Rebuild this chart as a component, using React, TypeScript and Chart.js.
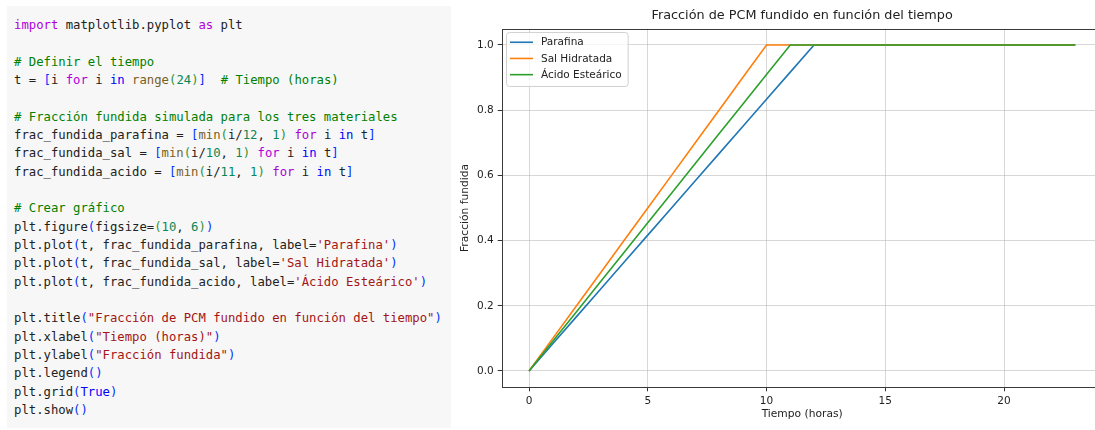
import React, { useEffect, useRef } from 'react';
import { Chart, registerables } from 'chart.js';

Chart.register(...registerables);

// ---------- data ----------
const hours = [0, 1, 2, 3, 4, 5, 6, 7, 8, 9, 10, 11, 12, 13, 14, 15, 16, 17, 18, 19, 20, 21, 22, 23];
const parafina = [0, 0.0833, 0.1667, 0.25, 0.3333, 0.4167, 0.5, 0.5833, 0.6667, 0.75, 0.8333, 0.9167, 1, 1, 1, 1, 1, 1, 1, 1, 1, 1, 1, 1];
const salHidratada = [0, 0.1, 0.2, 0.3, 0.4, 0.5, 0.6, 0.7, 0.8, 0.9, 1, 1, 1, 1, 1, 1, 1, 1, 1, 1, 1, 1, 1, 1];
const acidoEstearico = [0, 0.0909, 0.1818, 0.2727, 0.3636, 0.4545, 0.5455, 0.6364, 0.7273, 0.8182, 0.9091, 1, 1, 1, 1, 1, 1, 1, 1, 1, 1, 1, 1, 1];
const seriesLabels = ['Parafina', 'Sal Hidratada', 'Ácido Esteárico'];
const seriesColors = ['#1f77b4', '#ff7f0e', '#2ca02c'];
const xTickValues = [0, 5, 10, 15, 20];
const xTickLabels = ['0', '5', '10', '15', '20'];
const yTickValues = [0, 0.2, 0.4, 0.6, 0.8, 1.0];
const yTickLabels = ['0.0', '0.2', '0.4', '0.6', '0.8', '1.0'];
const chartTitle = 'Fracción de PCM fundido en función del tiempo';
const xAxisTitle = 'Tiempo (horas)';
const yAxisTitle = 'Fracción fundida';

// ---------- code panel ----------
type Tok = [string, string];
const codeColors: Record<string, string> = {
  d: '#212121',
  k: '#af00db',
  b: '#0000ff',
  f: '#795e26',
  n: '#098658',
  s: '#a31515',
  c: '#008000',
  p1: '#0431fa',
  p2: '#319331',
};
const codeLines: Tok[][] = [
  [['import', 'k'], [' matplotlib.pyplot ', 'd'], ['as', 'k'], [' plt', 'd']],
  [],
  [['# Definir el tiempo', 'c']],
  [['t = ', 'd'], ['[', 'p1'], ['i ', 'd'], ['for', 'k'], [' i ', 'd'], ['in', 'b'], [' ', 'd'], ['range', 'f'], ['(', 'p2'], ['24', 'n'], [')', 'p2'], [']', 'p1'], ['  ', 'd'], ['# Tiempo (horas)', 'c']],
  [],
  [['# Fracción fundida simulada para los tres materiales', 'c']],
  [['frac_fundida_parafina = ', 'd'], ['[', 'p1'], ['min', 'f'], ['(', 'p2'], ['i/', 'd'], ['12', 'n'], [', ', 'd'], ['1', 'n'], [')', 'p2'], [' ', 'd'], ['for', 'k'], [' i ', 'd'], ['in', 'b'], [' t', 'd'], [']', 'p1']],
  [['frac_fundida_sal = ', 'd'], ['[', 'p1'], ['min', 'f'], ['(', 'p2'], ['i/', 'd'], ['10', 'n'], [', ', 'd'], ['1', 'n'], [')', 'p2'], [' ', 'd'], ['for', 'k'], [' i ', 'd'], ['in', 'b'], [' t', 'd'], [']', 'p1']],
  [['frac_fundida_acido = ', 'd'], ['[', 'p1'], ['min', 'f'], ['(', 'p2'], ['i/', 'd'], ['11', 'n'], [', ', 'd'], ['1', 'n'], [')', 'p2'], [' ', 'd'], ['for', 'k'], [' i ', 'd'], ['in', 'b'], [' t', 'd'], [']', 'p1']],
  [],
  [['# Crear gráfico', 'c']],
  [['plt.figure', 'd'], ['(', 'p1'], ['figsize=', 'd'], ['(', 'p2'], ['10', 'n'], [', ', 'd'], ['6', 'n'], [')', 'p2'], [')', 'p1']],
  [['plt.plot', 'd'], ['(', 'p1'], ['t, frac_fundida_parafina, label=', 'd'], ["'Parafina'", 's'], [')', 'p1']],
  [['plt.plot', 'd'], ['(', 'p1'], ['t, frac_fundida_sal, label=', 'd'], ["'Sal Hidratada'", 's'], [')', 'p1']],
  [['plt.plot', 'd'], ['(', 'p1'], ['t, frac_fundida_acido, label=', 'd'], ["'Ácido Esteárico'", 's'], [')', 'p1']],
  [],
  [['plt.title', 'd'], ['(', 'p1'], ['"Fracción de PCM fundido en función del tiempo"', 's'], [')', 'p1']],
  [['plt.xlabel', 'd'], ['(', 'p1'], ['"Tiempo (horas)"', 's'], [')', 'p1']],
  [['plt.ylabel', 'd'], ['(', 'p1'], ['"Fracción fundida"', 's'], [')', 'p1']],
  [['plt.legend', 'd'], ['()', 'p1']],
  [['plt.grid', 'd'], ['(', 'p1'], ['True', 'b'], [')', 'p1']],
  [['plt.show', 'd'], ['()', 'p1']],
];

const FONT = '"DejaVu Sans", sans-serif';

// centre the title over the plotting area, like matplotlib does
const titleCenterPlugin = {
  id: 'titleCenter',
  afterLayout(chart: any) {
    const tb = chart.titleBlock;
    if (tb) {
      tb.left = chart.chartArea.left;
      tb.right = chart.chartArea.right;
    }
  },
};

const framePlugin = {
  id: 'frame',
  afterDatasetsDraw(chart: any) {
    const { ctx, chartArea } = chart;
    const l = Math.round(chartArea.left) + 0.5;
    const t = Math.round(chartArea.top) + 0.5;
    const r = Math.round(chartArea.right) + 0.5;
    const b = Math.round(chartArea.bottom) + 0.5;
    ctx.save();
    ctx.strokeStyle = '#3a3a3a';
    ctx.lineWidth = 1;
    ctx.strokeRect(l, t, r - l, b - t);
    ctx.restore();
  },
};

const legendPlugin = {
  id: 'mplLegend',
  afterDatasetsDraw(chart: any) {
    const { ctx, chartArea } = chart;
    const datasets = chart.data.datasets;
    ctx.save();
    ctx.font = `10.5px ${FONT}`;
    let maxW = 0;
    datasets.forEach((d: any) => {
      maxW = Math.max(maxW, ctx.measureText(d.label).width);
    });
    const bx = chartArea.left + 4.3;
    const by = chartArea.top + 3.3;
    const rowH = 16.2;
    const bw = 35 + maxW + 6;
    const bh = 54;
    ctx.beginPath();
    (ctx as any).roundRect(bx + 0.5, by + 0.5, bw, bh, 3);
    ctx.fillStyle = 'rgba(255,255,255,0.8)';
    ctx.fill();
    ctx.strokeStyle = '#d0d0d0';
    ctx.lineWidth = 1;
    ctx.stroke();
    datasets.forEach((d: any, i: number) => {
      const y = by + 10.3 + i * rowH;
      ctx.beginPath();
      ctx.moveTo(bx + 4, y);
      ctx.lineTo(bx + 27, y);
      ctx.strokeStyle = d.borderColor;
      ctx.lineWidth = 1.6;
      ctx.stroke();
      ctx.fillStyle = '#222';
      ctx.textBaseline = 'middle';
      ctx.textAlign = 'left';
      ctx.fillText(d.label, bx + 35, y + 0.5);
    });
    ctx.restore();
  },
};

export default function App() {
  const canvasRef = useRef<HTMLCanvasElement | null>(null);

  useEffect(() => {
    document.body.style.margin = '0';
    const series = [parafina, salHidratada, acidoEstearico];
    const chart = new Chart(canvasRef.current as HTMLCanvasElement, {
      type: 'line',
      data: {
        datasets: series.map((vals, i) => ({
          label: seriesLabels[i],
          data: hours.map((h, j) => ({ x: h, y: vals[j] })),
          borderColor: seriesColors[i],
          backgroundColor: seriesColors[i],
          borderWidth: 1.6,
          pointRadius: 0,
          tension: 0,
          order: 3 - i,
        })),
      },
      options: {
        animation: false,
        responsive: true,
        maintainAspectRatio: false,
        layout: { padding: { left: 0, right: 27.4, top: 0, bottom: 0 } },
        plugins: {
          legend: { display: false },
          tooltip: { enabled: false },
          title: {
            display: true,
            text: chartTitle,
            color: '#222',
            font: { family: FONT, size: 12.8, weight: 'normal', lineHeight: 1.2 },
            padding: { top: 8.3, bottom: 5.0 },
          },
        },
        scales: {
          x: {
            type: 'linear',
            min: -1.15,
            max: 24.15,
            afterBuildTicks: (s: any) => {
              s.ticks = xTickValues.map((v) => ({ value: v }));
            },
            afterFit: (s: any) => {
              s.height = 42.7;
            },
            ticks: {
              autoSkip: false,
              maxRotation: 0,
              padding: 4,
              color: '#222',
              font: { family: FONT, size: 10.5 },
              callback: (v: any) => xTickLabels[xTickValues.indexOf(Number(v))],
            },
            grid: {
              color: 'rgba(176,176,176,0.5)',
              lineWidth: 1,
              tickColor: '#333',
              tickLength: 4,
              drawTicks: true,
            },
            border: { display: false },
            title: {
              display: true,
              text: xAxisTitle,
              color: '#222',
              font: { family: FONT, size: 10.7, lineHeight: 1.2 },
              padding: { top: 0, bottom: 9.2 },
            },
          },
          y: {
            type: 'linear',
            min: -0.05,
            max: 1.05,
            afterBuildTicks: (s: any) => {
              s.ticks = yTickValues.map((v) => ({ value: v }));
            },
            afterFit: (s: any) => {
              s.width = 51.7;
            },
            ticks: {
              autoSkip: false,
              padding: 4,
              color: '#222',
              font: { family: FONT, size: 10.5 },
              callback: (v: any) => {
                const idx = yTickValues.findIndex((t) => Math.abs(t - Number(v)) < 1e-9);
                return yTickLabels[idx];
              },
            },
            grid: {
              color: 'rgba(176,176,176,0.5)',
              lineWidth: 1,
              tickColor: '#333',
              tickLength: 4,
              drawTicks: true,
            },
            border: { display: false },
            title: {
              display: true,
              text: yAxisTitle,
              color: '#222',
              font: { family: FONT, size: 10.7, lineHeight: 1.2 },
              padding: { top: 9, bottom: 0 },
            },
          },
        },
      } as any,
      plugins: [titleCenterPlugin, framePlugin, legendPlugin],
    });
    return () => chart.destroy();
  }, []);

  return (
    <div style={{ position: 'relative', width: 1095, height: 430, overflow: 'hidden', background: '#fff' }}>
      <div
        style={{
          position: 'absolute',
          left: 7,
          top: 5.5,
          width: 444,
          height: 422.5,
          background: '#f7f7f7',
        }}
      />
      <pre
        style={{
          position: 'absolute',
          left: 14,
          top: 16,
          margin: 0,
          fontFamily: '"DejaVu Sans Mono", monospace',
          fontSize: 12.26,
          lineHeight: '18.33px',
          color: codeColors.d,
        }}
      >
        {codeLines.map((line, i) => (
          <div key={i} style={{ height: 18.33 }}>
            {line.map((tok, j) => (
              <span key={j} style={{ color: codeColors[tok[1]] }}>
                {tok[0]}
              </span>
            ))}
          </div>
        ))}
      </pre>
      <div style={{ position: 'absolute', left: 450, top: 0, width: 680, height: 430 }}>
        <canvas ref={canvasRef} />
      </div>
    </div>
  );
}
